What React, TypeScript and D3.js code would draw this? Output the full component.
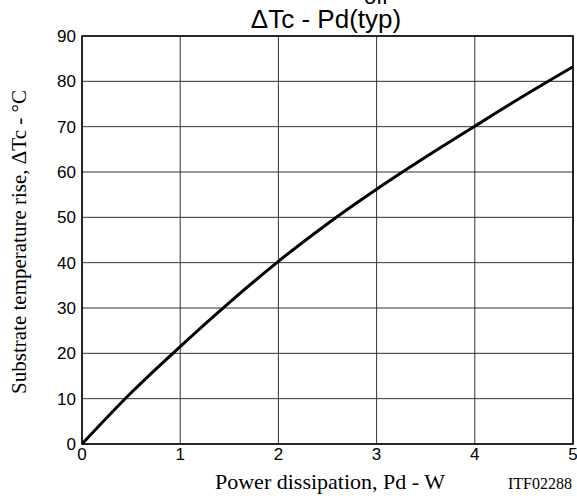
import React from "react";
import * as d3 from "d3";

const xTicks = [0, 1, 2, 3, 4, 5];
const yTicks = [0, 10, 20, 30, 40, 50, 60, 70, 80, 90];
const powerW = [0, 0.5, 1, 1.5, 2, 2.5, 3, 3.5, 4, 4.5, 5];
const tempRise = [0, 11.3, 21.5, 31.2, 40.3, 48.6, 56.2, 63.3, 70.1, 76.8, 83.2];

export default function App() {
  const W = 577, H = 496;
  const L = 82, R = 573, T = 36, B = 444;
  const x = d3.scaleLinear().domain([0, 5]).range([L, R]);
  const y = d3.scaleLinear().domain([0, 90]).range([B, T]);
  const pts: [number, number][] = powerW.map((p, i) => [p, tempRise[i]]);
  const line = d3.line<[number, number]>().x(d => x(d[0])).y(d => y(d[1])).curve(d3.curveMonotoneX);
  const sans = "'Liberation Sans', Arial, sans-serif";
  const serif = "'Liberation Serif', 'Times New Roman', serif";
  return (
    <svg width={W} height={H} style={{ position: "absolute", left: 0, top: 0, background: "#fff" }}>
      <rect x={0} y={0} width={W} height={H} fill="#fff" />
      <text x={376} y={4} fontFamily={sans} fontSize={22} textAnchor="middle" fill="#000">off</text>
      <text x={326} y={28} fontFamily={sans} fontSize={26} textAnchor="middle" fill="#000">ΔTc - Pd(typ)</text>
      {yTicks.map(t => (
        <line key={"gy" + t} x1={L} x2={R} y1={y(t)} y2={y(t)} stroke="#333" strokeWidth={1} />
      ))}
      {xTicks.map(t => (
        <line key={"gx" + t} x1={x(t)} x2={x(t)} y1={T} y2={B} stroke="#333" strokeWidth={1} />
      ))}
      <rect x={L} y={T} width={R - L} height={B - T} fill="none" stroke="#000" strokeWidth={1.5} />
      <path d={line(pts) || ""} fill="none" stroke="#000" strokeWidth={3} />
      {yTicks.map(t => (
        <text key={"ly" + t} x={L - 6} y={y(t) + 6} fontFamily={sans} fontSize={17} textAnchor="end" fill="#000">{t}</text>
      ))}
      {xTicks.map(t => (
        <text key={"lx" + t} x={x(t)} y={B + 16} fontFamily={sans} fontSize={17} textAnchor="middle" fill="#000">{t}</text>
      ))}
      <text x={330} y={489} fontFamily={serif} fontSize={22} textAnchor="middle" fill="#000">Power dissipation, Pd - W</text>
      <text x={572} y={489} fontFamily={serif} fontSize={16} textAnchor="end" fill="#000">ITF02288</text>
      <text transform={`translate(26, 242) rotate(-90)`} fontFamily={serif} fontSize={21} textAnchor="middle" fill="#000">Substrate temperature rise, ΔTc - °C</text>
    </svg>
  );
}
